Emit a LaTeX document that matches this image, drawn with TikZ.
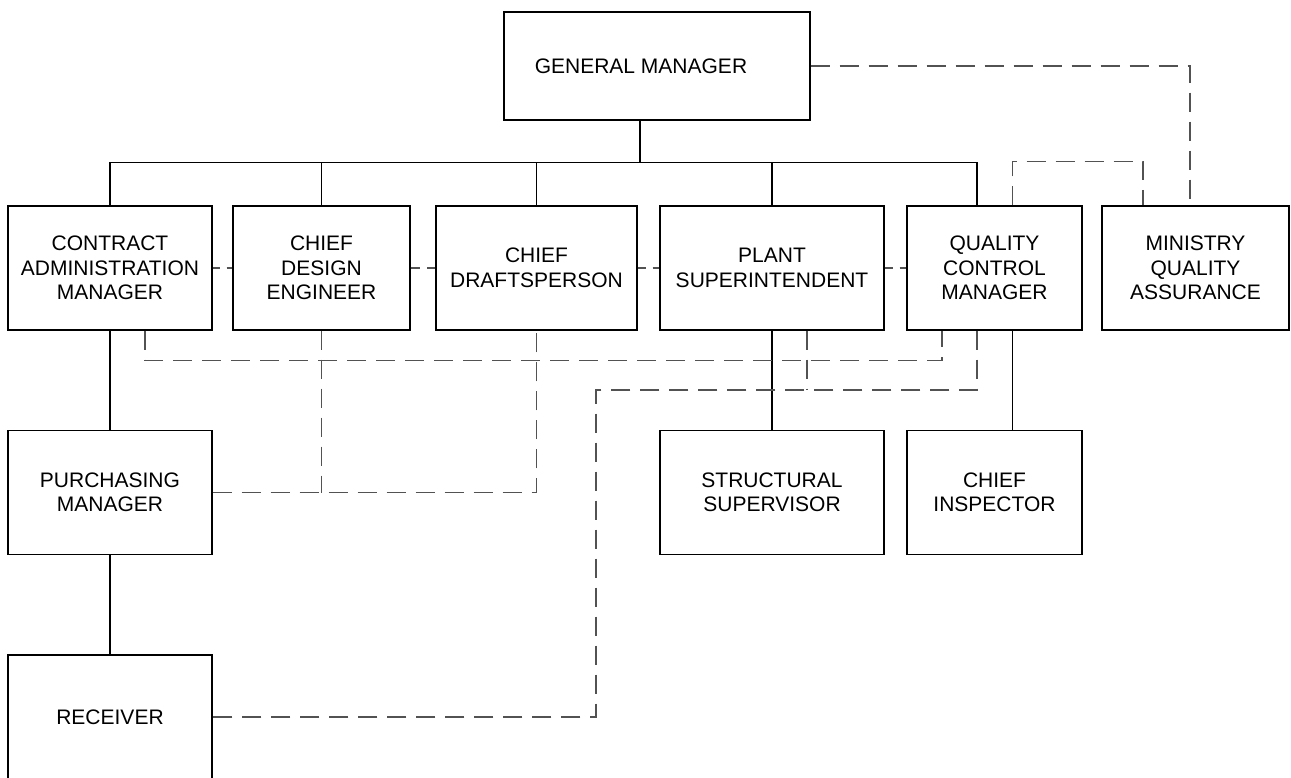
\documentclass[tikz,border=0pt]{standalone}
\usepackage{fontspec}
\setmainfont{Liberation Sans}
\usetikzlibrary{positioning, calc}

\begin{document}
\begin{tikzpicture}[x=1pt, y=-1pt,
    box/.style={draw, line width=1.3pt, inner sep=0pt, minimum height=124pt, align=center,
        font=\fontsize{21}{24.5}\selectfont},
    link/.style={line width=1.2pt},
    dotted link/.style={line width=1.1pt, black!68, dash pattern=on 19pt off 10pt},
    short link/.style={line width=1.1pt, black!68, dash pattern=on 19pt off 7pt, dash phase=#1}]
    \useasboundingbox (0,0) rectangle (1291,778);
    % top
    \node[box, minimum width=306pt, minimum height=108pt] (gm) at (657,66) {GENERAL MANAGER\hspace*{32pt}};
    % second row
    \node[box, minimum width=204pt] (cam) at (110,268) {CONTRACT\\ADMINISTRATION\\MANAGER};
    \node[box, minimum width=177pt] (cde) at (321.5,268) {CHIEF\\DESIGN\\ENGINEER};
    \node[box, minimum width=201pt] (cd) at (536.5,268) {CHIEF\\DRAFTSPERSON};
    \node[box, minimum width=224pt] (ps) at (772,268) {PLANT\\SUPERINTENDENT};
    \node[box, minimum width=175pt] (qcm) at (994.5,268) {QUALITY\\CONTROL\\MANAGER};
    \node[box, minimum width=187pt] (mqa) at (1195.5,268) {MINISTRY\\QUALITY\\ASSURANCE};
    % lower rows
    \node[box, minimum width=204pt] (pm) at (110,492.5) {PURCHASING\\MANAGER};
    \node[box, minimum width=224pt] (ss) at (772,492.5) {STRUCTURAL\\SUPERVISOR};
    \node[box, minimum width=175pt] (ci) at (994.5,492.5) {CHIEF\\INSPECTOR};
    \node[box, minimum width=204pt] (rcv) at (110,717) {RECEIVER};

    % line authority
    \draw[link] ([xshift=-17pt]gm.south) -- ++(0,42) coordinate (bus);
    \draw[link] (cam.north) |- (bus) -| ([xshift=-17.5pt]qcm.north);
    \draw[link] (cde.north) -- (cde.north |- bus);
    \draw[link] (cd.north) -- (cd.north |- bus);
    \draw[link] (ps.north) -- (ps.north |- bus);
    \draw[link] (cam.south) -- (pm.north);
    \draw[link] (pm.south) -- (rcv.north);
    \draw[link] (ps.south) -- (ss.north);
    \draw[link] ([xshift=18pt]qcm.south) -- ([xshift=18pt]ci.north);

    % functional links
    \draw[dotted link] (gm.east) -| ([xshift=-5.5pt]mqa.north);
    \draw[dotted link] ([xshift=18pt]qcm.north) -- ++(0,-44) -| ([xshift=-52.5pt]mqa.north);
    \draw[short link=12pt] (cam.east) -- (cde.west);
    \draw[short link=9.5pt] (cde.east) -- (cd.west);
    \draw[short link=11pt] (cd.east) -- (ps.west);
    \draw[short link=11pt] (ps.east) -- (qcm.west);
    \draw[dotted link] ([xshift=35pt]cam.south) -- ++(0,30) -| ([xshift=-52.5pt]qcm.south);
    \coordinate (turn) at (596,390);
    \draw[dotted link] ([xshift=-17.5pt]qcm.south) |- (turn) |- (rcv.east);
    \draw[dotted link] ([xshift=35pt]ps.south) -- ([xshift=35pt]ps.south |- turn);
    \draw[dotted link] (pm.east) -| (cd.south);
    \draw[dotted link] (cde.south) -- (cde.south |- pm.east);
\end{tikzpicture}
\end{document}
